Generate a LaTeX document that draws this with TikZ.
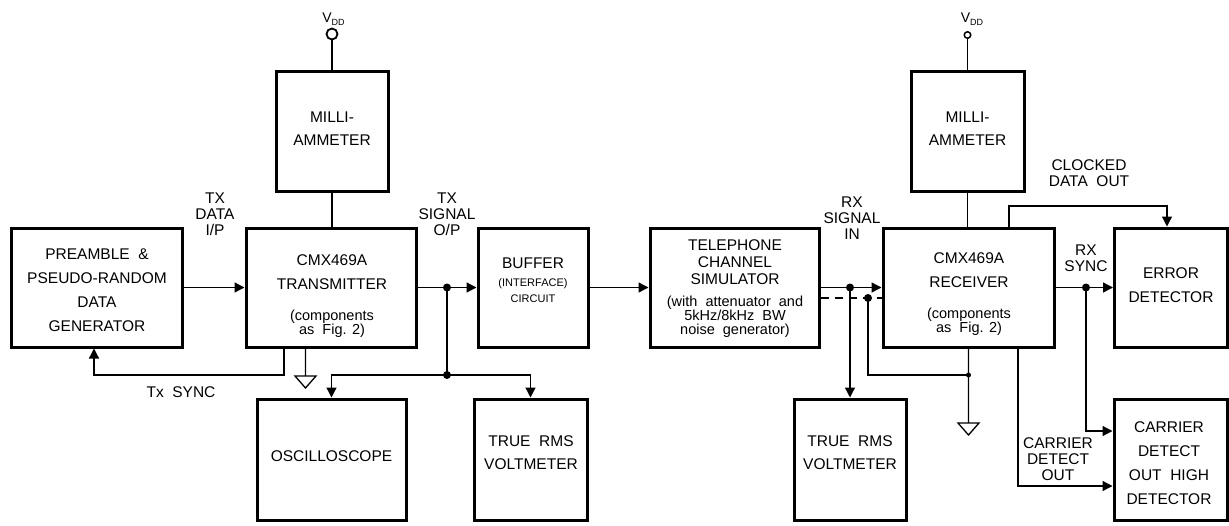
\documentclass[tikz,border=0pt]{standalone}
\usepackage{fontspec}
\setmainfont{Liberation Sans}
\usetikzlibrary{arrows.meta}
\begin{document}
\begin{tikzpicture}[x=1pt,y=-1pt,
  box/.style={draw, line width=3pt, inner sep=0pt},
  conn/.style={line width=1.3pt},
  arr/.style={conn, -{Triangle[length=10pt,width=10pt]}},
  dotfill/.style={fill=black},
  txt/.style={align=center, inner sep=0pt, outer sep=0pt},
  tA/.style={txt, font=\fontsize{15.5}{24}\selectfont},
  tB/.style={txt, font=\fontsize{15.5}{23}\selectfont},
  tC/.style={txt, font=\fontsize{15.5}{16}\selectfont},
  tD/.style={txt, font=\fontsize{15.5}{17}\selectfont},
  tE/.style={txt, font=\fontsize{14.5}{14}\selectfont},
  tF/.style={txt, font=\fontsize{11}{16}\selectfont},
  vddtxt/.style={inner sep=0pt, anchor=base, font=\fontsize{14}{14}\selectfont}
]
\useasboundingbox (0,0) rectangle (1229,525);

% ---------------- boxes ----------------
\node[box, minimum width=171pt, minimum height=119pt] (pre) at (96.5,287.5) {};
\node[box, minimum width=170pt, minimum height=119pt] (tx)  at (331,287.5) {};
\node[box, minimum width=112pt, minimum height=120pt] (m1)  at (332,131) {};
\node[box, minimum width=149pt, minimum height=121pt] (osc) at (331.5,459.5) {};
\node[box, minimum width=110pt, minimum height=119pt] (buf) at (533,287.5) {};
\node[box, minimum width=113pt, minimum height=121pt] (vm1) at (530.5,459.5) {};
\node[box, minimum width=169pt, minimum height=119pt] (tel) at (734.5,287.5) {};
\node[box, minimum width=112pt, minimum height=121pt] (vm2) at (850,459.5) {};
\node[box, minimum width=113pt, minimum height=120pt] (m2)  at (967.5,131) {};
\node[box, minimum width=171pt, minimum height=119pt] (rx)  at (968.5,287.5) {};
\node[box, minimum width=113pt, minimum height=119pt] (err) at (1171,287.5) {};
\node[box, minimum width=113pt, minimum height=121pt] (car) at (1170.5,459.5) {};

% ---------------- box texts ----------------
\node[tA] (pret) at (97,290) {PREAMBLE\ \ \&\\PSEUDO-RANDOM\\DATA\\GENERATOR};
\node[tA] (txt1) at (332,272) {CMX469A\\TRANSMITTER};
\node[tE] (txc)  at (332,323.5) {(components\\as\ \ Fig. 2)};
\node[tB] (m1t)  at (332,128.5) {MILLI-\\AMMETER};
\node[tB] (m2t)  at (967.5,128.5) {MILLI-\\AMMETER};
\node[txt, font=\fontsize{15.5}{16}\selectfont] (osct) at (331.5,456) {OSCILLOSCOPE};
\node[txt, font=\fontsize{15.5}{16}\selectfont] (buft) at (533,263) {BUFFER};
\node[tF] (bufs) at (533,291) {(INTERFACE)\\CIRCUIT};
\node[tB] (vm1t) at (531,452.5) {TRUE\ \ RMS\\VOLTMETER};
\node[tD] (telt) at (735,262) {TELEPHONE\\CHANNEL\\SIMULATOR};
\node[tE] (tels) at (735,316.5) {(with\ \ attenuator\ \ and\\5kHz/8kHz\ \ BW\\noise\ \ generator)};
\node[tB] (vm2t) at (850,452.5) {TRUE\ \ RMS\\VOLTMETER};
\node[tA] (rxt)  at (969,270) {CMX469A\\RECEIVER};
\node[tE] (rxc)  at (969,321.5) {(components\\as\ \ Fig. 2)};
\node[tA] (errt) at (1171,285) {ERROR\\DETECTOR};
\node[tA] (cart) at (1169,463) {CARRIER\\DETECT\\OUT\ \ HIGH\\DETECTOR};

% ---------------- labels ----------------
\node[tC] (ltd)  at (215,214) {TX\\DATA\\I/P};
\node[tC] (lts)  at (447,214) {TX\\SIGNAL\\O/P};
\node[tC] (lrs)  at (852,218) {RX\\SIGNAL\\IN};
\node[tC] (lclk) at (1089,173) {CLOCKED\\DATA\ \ OUT};
\node[tC] (lrsy) at (1086,258) {RX\\SYNC};
\node[tC] (lcdo) at (1058,459) {CARRIER\\DETECT\\OUT};
\node[txt, font=\fontsize{15.5}{16}\selectfont] (lsync) at (181,392) {Tx\ \ SYNC};
\node[vddtxt] (vl1) at (333.5,22.5) {V\raisebox{-3pt}{\fontsize{9}{9}\selectfont DD}};
\node[vddtxt] (vl2) at (972,22.5) {V\raisebox{-3pt}{\fontsize{9}{9}\selectfont DD}};

% ---------------- supply ----------------
\node[circle, draw, line width=1.8pt, minimum size=11pt, inner sep=0pt] (v1) at (332,34) {};
\node[circle, draw, line width=1.5pt, minimum size=6.5pt, inner sep=0pt] (v2) at (967.5,35) {};
\draw[conn] (v1) -- (v1 |- m1.north);
\draw[conn] (v2) -- (v2 |- m2.north);
\draw[conn] (m1.south) -- (m1.south |- tx.north);
\draw[conn] (m2.south) -- (m2.south |- rx.north);

% ---------------- transmitter side ----------------
\draw[arr] (pre.east) -- (tx.west);
\coordinate (s1) at (284,375);
\coordinate (s2) at (94,375);
\draw[arr] (tx.south -| s1) -- (s1) -- (s2) -- (pre.south -| s2);
\coordinate (g1) at (305.5,376);
\draw[conn, line join=miter] (tx.south -| g1) -- (g1) ++(-10.5,0) -- ++(21,0) -- ++(-10.5,12) -- cycle;

\coordinate (xd1) at (447,0);
\coordinate (j1) at (tx.east -| xd1);
\coordinate (j2) at (447,375);
\draw[arr] (tx.east) -- (buf.west);
\draw[conn] (j1) -- (j2);
\draw[arr] (j2) -| (osc.north);
\draw[arr] (j2) -| (vm1.north);
\fill[dotfill] (j1) circle[radius=4pt];
\fill[dotfill] (j2) circle[radius=4pt];

\draw[arr] (buf.east) -- (tel.west);

% ---------------- receiver side ----------------
\draw[arr] (tel.east) -- (rx.west);
\coordinate (j3) at (tel.east -| vm2.north);
\draw[arr] (j3) -- (vm2.north);
\fill[dotfill] (j3) circle[radius=4pt];

\coordinate (da) at ([yshift=-10.5pt]tel.east);
\coordinate (db) at (da -| rx.west);
\draw[conn, dash pattern=on 8pt off 6pt] (da) -- (db);
\coordinate (xj4) at (868,0);
\coordinate (j4) at (da -| xj4);
\coordinate (j5) at (868,375);
\coordinate (j6) at (rx.south |- j5);
\draw[conn] (j4) -- (j5) -- (j6);
\coordinate (yg2) at (0,423);
\coordinate (g2) at (rx.south |- yg2);
\draw[conn, line join=miter] (rx.south) -- (g2) ++(-10.5,0) -- ++(21,0) -- ++(-10.5,12) -- cycle;
\fill[dotfill] (j4) circle[radius=4pt];
\fill[dotfill] (j6) circle[radius=2.5pt];

\coordinate (k1) at (1009,206);
\coordinate (k2) at (1167,206);
\draw[arr] (rx.north -| k1) -- (k1) -- (k2) -- (err.north -| k2);
\draw[arr] (rx.east) -- (err.west);
\coordinate (xj7) at (1086,0);
\coordinate (j7) at (rx.east -| xj7);
\coordinate (s3) at (1086,431);
\draw[arr] (j7) -- (s3) -- (car.west |- s3);
\fill[dotfill] (j7) circle[radius=4pt];
\coordinate (c1) at (1018,486);
\draw[arr] (rx.south -| c1) -- (c1) -- (car.west |- c1);
\end{tikzpicture}
\end{document}
